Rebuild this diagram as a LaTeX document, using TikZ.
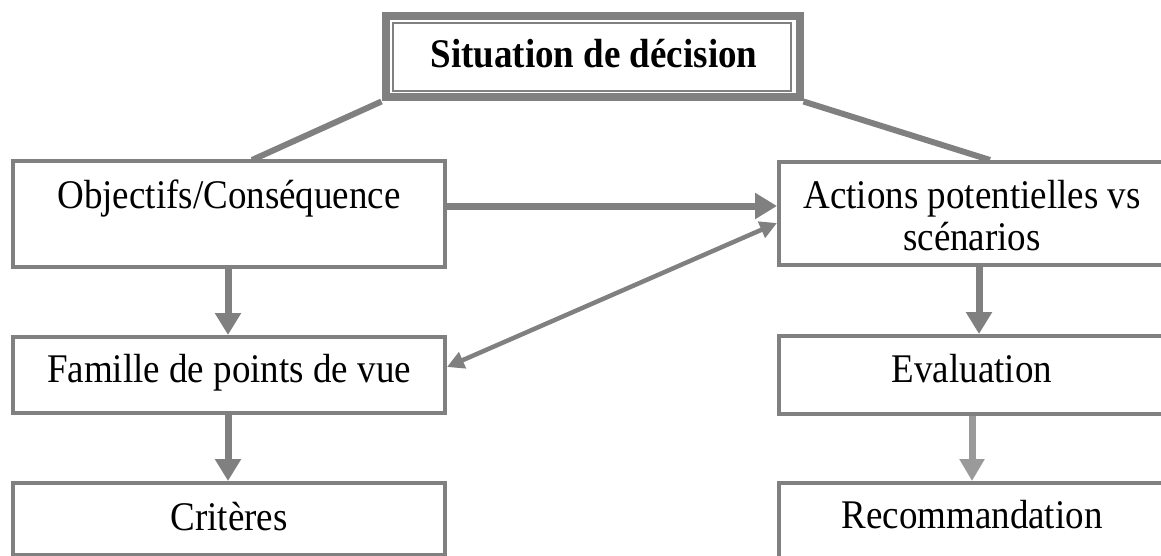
\documentclass[tikz,border=0pt]{standalone}
\usepackage{graphicx}
\usepackage{fontspec}
\setmainfont{Liberation Serif}
\usetikzlibrary{arrows.meta,calc}
\definecolor{boxgray}{HTML}{808080}
\definecolor{softgray}{HTML}{9A9A9A}
% slightly taller lettering
\newcommand{\tallText}[1]{\scalebox{1}[1.1]{#1}}
\begin{document}
\begin{tikzpicture}[x=1pt,y=-1pt,
  box/.style={draw=boxgray,line width=4pt,fill=white,inner sep=0pt},
  txt/.style={font=\fontsize{37}{42}\selectfont,anchor=base,inner sep=0pt},
  link/.style={draw=boxgray,line width=6pt},
  flow/.style={draw=boxgray,line width=7pt,-{Triangle[length=22pt,width=25pt]}},
  softflow/.style={draw=softgray,line width=7pt,-{Triangle[length=22pt,width=24pt]}},
  both/.style={draw=boxgray,line width=4.5pt,{Triangle[length=17pt,width=17pt]}-{Triangle[length=17pt,width=17pt]}}]
\useasboundingbox (0,0) rectangle (1161,556);

% title frame: thick outer border and thin inner border
\node[draw=boxgray,line width=8pt,inner sep=0pt,minimum width=414pt,minimum height=81.5pt] (title) at (592.5,56.75) {};
\node[draw=boxgray,line width=1.5pt,inner sep=0pt,minimum width=398pt,minimum height=68pt] (titlein) at (592,57) {};
\node[txt,font=\fontsize{37}{42}\selectfont\bfseries] (titletxt) at (594,68) {\tallText{Situation de décision}};

% boxes
\node[box,minimum width=432pt,minimum height=106pt] (obj) at (229,214) {};
\node[box,minimum width=391pt,minimum height=103pt] (act) at (974.5,213.5) {};
\node[box,minimum width=432pt,minimum height=76pt] (fam) at (229,375) {};
\node[box,minimum width=391pt,minimum height=78pt] (eva) at (974.5,375) {};
\node[box,minimum width=432pt,minimum height=72pt] (cri) at (229,519) {};
\node[box,minimum width=391pt,minimum height=80pt] (rec) at (974.5,523) {};

% texts
\node[txt] (objtxt) at (229,208) {\tallText{Objectifs/Conséquence}};
\node[txt] (acttxta) at (972,208) {\tallText{Actions potentielles vs}};
\node[txt] (acttxtb) at (972,250) {\tallText{scénarios}};
\node[txt] (famtxt) at (229,382) {\tallText{Famille de points de vue}};
\node[txt] (evatxt) at (972,382) {\tallText{Evaluation}};
\node[txt] (critxt) at (229,530) {\tallText{Critères}};
\node[txt] (rectxt) at (972,528) {\tallText{Recommandation}};

% links from the title
\draw[link] (title.south west) -- ($(obj.north)+(23,1)$);
\draw[link] (title.south east) -- ($(act.north)+(15.5,0)$);

% arrows
\coordinate (oa) at ($(obj.east)+(0,-8)$);
\draw[flow] (oa) -- (oa -| act.west);
\coordinate (fa) at ($(fam.east)+(0,-8)$);
\coordinate (af) at ($(act.west)+(0,9.5)$);
\draw[both] (fa) -- (af);
\draw[flow] ($(obj.south)+(-1,0)$) -- ($(fam.north)+(-1,0)$);
\draw[flow] ($(fam.south)+(-1,0)$) -- ($(cri.north)+(-1,0)$);
\draw[flow] ($(act.south)+(4.5,0)$) -- ($(eva.north)+(4.5,0)$);
\draw[softflow] ($(eva.south)+(-2.5,0)$) -- ($(rec.north)+(-2.5,0)$);
\end{tikzpicture}
\end{document}
